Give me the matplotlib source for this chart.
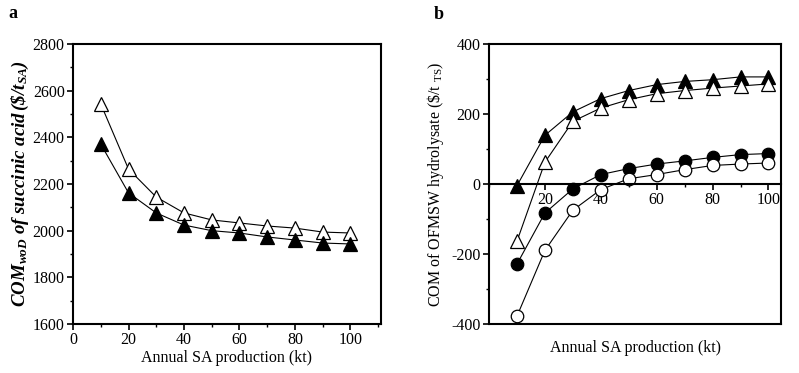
import matplotlib
matplotlib.use('Agg')
import matplotlib.pyplot as plt
from matplotlib.ticker import MultipleLocator

plt.rcParams['font.family'] = ['Liberation Serif', 'DejaVu Serif']
plt.rcParams['mathtext.fontset'] = 'custom'
plt.rcParams['mathtext.rm'] = 'Liberation Serif'
plt.rcParams['mathtext.it'] = 'Liberation Serif:italic'
plt.rcParams['mathtext.bf'] = 'Liberation Serif:bold'
plt.rcParams['mathtext.bfit'] = 'Liberation Serif:bold:italic'
plt.rcParams['axes.unicode_minus'] = False

# Annual SA production (kt)
production = [10, 20, 30, 40, 50, 60, 70, 80, 90, 100]

# Panel a: COM woD of succinic acid ($/t SA)
com_sa_open = [2543, 2264, 2144, 2076, 2046, 2033, 2020, 2011, 1994, 1990]
com_sa_filled = [2371, 2162, 2076, 2024, 2000, 1990, 1973, 1960, 1947, 1943]

# Panel b: COM of OFMSW hydrolysate ($/t TS)
hyd_tri_filled = [-5, 139, 206, 244, 267, 284, 293, 298, 306, 306]
hyd_tri_open = [-164, 62, 179, 217, 241, 258, 267, 274, 280, 286]
hyd_circ_filled = [-229, -83, -14, 27, 44, 57, 66, 76, 84, 87]
hyd_circ_open = [-378, -190, -75, -16, 15, 27, 41, 53, 57, 60]

fig = plt.figure(figsize=(7.99, 3.73), dpi=100)
ax1 = fig.add_axes([0.0914, 0.1314, 0.3854, 0.7506])
ax2 = fig.add_axes([0.612, 0.1314, 0.3655, 0.7506])

lw_line = 0.8
ms_tri = 10
ms_circ = 9

# ---- panel a
ax1.plot(production, com_sa_open, '-^', color='black', lw=lw_line,
         ms=ms_tri, mfc='white', mec='black', mew=0.9)
ax1.plot(production, com_sa_filled, '-^', color='black', lw=lw_line,
         ms=ms_tri, mfc='black', mec='black', mew=0.9)
ax1.set_xlim(0, 111)
ax1.set_ylim(1600, 2800)
ax1.xaxis.set_major_locator(MultipleLocator(20))
ax1.xaxis.set_minor_locator(MultipleLocator(10))
ax1.yaxis.set_major_locator(MultipleLocator(200))
ax1.yaxis.set_minor_locator(MultipleLocator(100))
ax1.set_xlabel('Annual SA production (kt)', fontsize=11.5, labelpad=1)
ax1.set_ylabel(r'$\mathbfit{COM_{woD}\ of\ succinic\ acid\,(\$/t_{SA})}$',
               fontsize=13.6, labelpad=1)

# ---- panel b
ax2.plot(production, hyd_tri_filled, '-^', color='black', lw=lw_line,
         ms=ms_tri, mfc='black', mec='black', mew=0.9)
ax2.plot(production, hyd_tri_open, '-^', color='black', lw=lw_line,
         ms=ms_tri, mfc='white', mec='black', mew=0.9)
ax2.plot(production, hyd_circ_filled, '-o', color='black', lw=lw_line,
         ms=ms_circ, mfc='black', mec='black', mew=0.9)
ax2.plot(production, hyd_circ_open, '-o', color='black', lw=lw_line,
         ms=ms_circ, mfc='white', mec='black', mew=0.9)
ax2.set_xlim(0, 104.5)
ax2.set_ylim(-400, 400)
ax2.spines['bottom'].set_position(('data', 0))
# keep the frame closed at the bottom
ax2.plot([0, 1], [0, 0], transform=ax2.transAxes, color='black', lw=1.5,
         clip_on=False, solid_capstyle='projecting')
ax2.set_xticks([20, 40, 60, 80, 100])
ax2.xaxis.set_minor_locator(MultipleLocator(10))
ax2.yaxis.set_major_locator(MultipleLocator(200))
ax2.yaxis.set_minor_locator(MultipleLocator(100))
ax2.set_xlabel('Annual SA production (kt)', fontsize=11.5)
ax2.xaxis.set_label_coords(0.5, -0.058)
ax2.set_ylabel(r'COM of OFMSW hydrolysate (\$/t $_{\mathrm{TS}}$)',
               fontsize=11.5, labelpad=4)

for ax in (ax1, ax2):
    for sp in ax.spines.values():
        sp.set_linewidth(1.5)
    ax.tick_params(which='major', direction='out', length=4, width=1.2,
                   labelsize=11.5, pad=2)
    ax.tick_params(which='minor', direction='out', length=2.5, width=1.0)

fig.text(0.01, 0.965, 'a', fontsize=13, fontweight='bold', va='center')
fig.text(0.543, 0.96, 'b', fontsize=13, fontweight='bold', va='center')

fig.savefig('out.png', dpi=100)
